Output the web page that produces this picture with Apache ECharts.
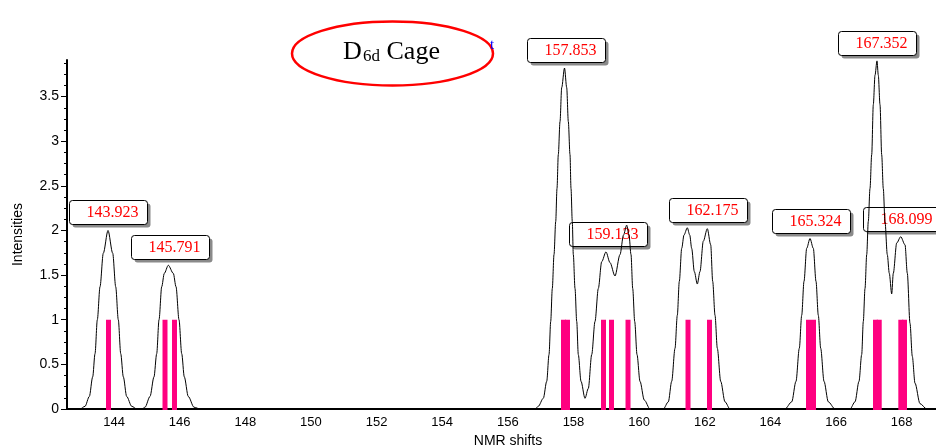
<!DOCTYPE html>
<html>
<head>
<meta charset="utf-8">
<script src="https://cdn.jsdelivr.net/npm/echarts@6/dist/echarts.min.js"></script>
<style>
html, body { margin: 0; padding: 0; background: #fff; }
#chart { width: 936px; height: 446px; }
</style>
</head>
<body>
<div id="chart"></div>
<script>
// Tick labels
const xTicks = [144, 146, 148, 150, 152, 154, 156, 158, 160, 162, 164, 166, 168];
const yTicks = [0, 0.5, 1, 1.5, 2, 2.5, 3, 3.5];
const yMinorTicks = [0.125, 0.25, 0.375, 0.625, 0.75, 0.875, 1.125, 1.25, 1.375, 1.625, 1.75, 1.875,
  2.125, 2.25, 2.375, 2.625, 2.75, 2.875, 3.125, 3.25, 3.375, 3.625, 3.75, 3.875];

// Calculated shielding sticks (ppm) and their relative intensities
const stickShifts = [143.923, 145.645, 145.935, 157.787, 157.909, 159.006, 159.250, 159.753,
  161.581, 162.236, 165.252, 165.405, 167.294, 167.407, 168.065, 168.177];
const stickIntensities = [1, 1, 1, 1, 1, 1, 1, 1, 1, 1, 1, 1, 1, 1, 1, 1];

// Broadened spectrum envelope
const curveShifts = [
  142.659, 143.055, 143.208, 143.339, 143.442, 143.513, 143.583, 143.665, 143.765, 143.909,
  144.052, 144.143, 144.222, 144.296, 144.375, 144.478, 144.631, 144.792,
  144.945, 145.036, 145.188, 145.310, 145.392, 145.463, 145.545, 145.624, 145.746, 145.898,
  145.981, 146.072, 146.154, 146.233, 146.355, 146.529, 146.712,
  156.919, 157.019, 157.172, 157.276, 157.346, 157.397, 157.446, 157.498, 157.550, 157.589,
  157.629, 157.681, 157.732, 157.818, 157.885, 157.934, 157.985, 158.016, 158.055, 158.086,
  158.138, 158.190, 158.238, 158.321, 158.442, 158.543, 158.647, 158.747, 158.848, 158.951,
  159.082, 159.204, 159.356, 159.509, 159.616, 159.713, 159.783, 159.844, 159.896, 159.957,
  160.027, 160.118, 160.249, 160.423,
  160.828, 160.981, 161.084, 161.185, 161.255, 161.316, 161.389, 161.459, 161.560, 161.633,
  161.693, 161.773, 161.864, 161.946, 162.047, 162.169, 162.272, 162.333, 162.404, 162.474,
  162.577, 162.708, 162.861,
  164.536, 164.741, 164.871, 164.972, 165.045, 165.115, 165.197, 165.298, 165.399, 165.481,
  165.551, 165.624, 165.725, 165.856, 166.060,
  166.517, 166.669, 166.791, 166.873, 166.922, 166.974, 167.026, 167.074, 167.126, 167.178,
  167.227, 167.279, 167.339, 167.379, 167.431, 167.482, 167.531, 167.583, 167.653, 167.714,
  167.787, 167.836, 167.940, 168.062, 168.193, 168.263, 168.345, 168.415, 168.497, 168.650,
  168.854, 169.137
];
const curveIntensities = [
  0, 0, 0.03, 0.14, 0.36, 0.62, 1.0, 1.37, 1.745, 2.0,
  1.745, 1.37, 1.0, 0.62, 0.36, 0.14, 0.03, 0,
  0, 0.02, 0.14, 0.36, 0.62, 1.0, 1.37, 1.52, 1.61, 1.52,
  1.37, 1.0, 0.62, 0.36, 0.14, 0.02, 0,
  0, 0.03, 0.12, 0.31, 0.61, 0.98, 1.35, 1.73, 2.10, 2.47,
  2.85, 3.22, 3.60, 3.82, 3.60, 3.22, 2.85, 2.47, 2.10, 1.73,
  1.35, 0.98, 0.61, 0.31, 0.12, 0.23, 0.61, 0.98, 1.35, 1.65,
  1.76, 1.64, 1.49, 1.73, 1.95, 2.06, 1.95, 1.73, 1.35, 0.98,
  0.61, 0.31, 0.10, 0,
  0, 0.08, 0.31, 0.68, 1.05, 1.43, 1.80, 1.95, 2.03, 1.95,
  1.80, 1.54, 1.40, 1.54, 1.88, 2.02, 1.84, 1.43, 1.05, 0.68,
  0.31, 0.08, 0,
  0, 0.08, 0.31, 0.68, 1.05, 1.43, 1.80, 1.91, 1.80, 1.43,
  1.05, 0.68, 0.31, 0.08, 0,
  0, 0.08, 0.31, 0.61, 0.98, 1.35, 1.73, 2.10, 2.47, 2.85,
  3.41, 3.74, 3.90, 3.74, 3.41, 2.85, 2.47, 2.10, 1.73, 1.52,
  1.29, 1.52, 1.86, 1.93, 1.84, 1.52, 0.96, 0.59, 0.29, 0.06,
  0, 0
];

// Peak annotations: shift value and envelope height under each tag
const peakLabels = [143.923, 145.791, 157.853, 159.133, 162.175, 165.324, 167.352, 168.099];
const peakHeights = [2.0, 1.61, 3.82, 1.76, 2.03, 1.91, 3.90, 1.93];

const chart = echarts.init(document.getElementById('chart'), null, { renderer: 'canvas' });

const axisFont = 'Liberation Sans, Arial, sans-serif';
const serifFont = 'Liberation Serif, Times New Roman, serif';

// Boxed tag with a drop shadow, sitting just above its peak
function renderTag(params, api) {
  const pt = api.coord([api.value(0), api.value(1)]);
  const w = 78, h = 24;
  const left = Math.round(pt[0] - w / 2) + 0.5;
  const top = Math.round(pt[1] - 6 - h) + 0.5;
  return {
    type: 'group',
    children: [
      { type: 'rect', shape: { x: left + 3, y: top + 3, width: w, height: h, r: 3 },
        style: { fill: '#8a8a8a' } },
      { type: 'rect', shape: { x: left, y: top, width: w, height: h, r: 3 },
        style: { fill: '#fff', stroke: '#000', lineWidth: 1 } },
      { type: 'text',
        style: { text: api.value(0).toFixed(3), x: left + 17, y: top + h / 2 + 0.5,
          fill: '#ff0000', font: '16px ' + serifFont, textAlign: 'left', textVerticalAlign: 'middle' } }
    ]
  };
}

chart.setOption({
  animation: false,
  backgroundColor: '#fff',
  grid: { left: 67, right: 0, top: 60, bottom: 37, containLabel: false, outerBoundsMode: 'none' },
  xAxis: {
    type: 'value',
    min: 142.659,
    max: 169.137,
    name: 'NMR shifts',
    nameLocation: 'middle',
    nameGap: 22,
    nameTextStyle: { fontFamily: axisFont, fontSize: 14, color: '#000', padding: [0, 0, 0, 13] },
    axisLine: { show: true, onZero: false, lineStyle: { color: '#000', width: 2 } },
    axisTick: { show: false },
    splitLine: { show: false },
    axisLabel: {
      customValues: xTicks,
      fontFamily: axisFont, fontSize: 13, color: '#000', margin: 7,
      padding: [0, 0, 0, 6]
    }
  },
  yAxis: [
    {
      type: 'value',
      min: 0,
      max: 3.91,
      name: 'Intensities',
      nameLocation: 'middle',
      nameGap: 42,
      nameRotate: 90,
      nameTextStyle: { fontFamily: axisFont, fontSize: 14, color: '#000' },
      axisLine: { show: true, lineStyle: { color: '#000', width: 2 } },
      axisTick: { show: true, customValues: yTicks, length: 6, lineStyle: { color: '#000', width: 1 } },
      splitLine: { show: false },
      axisLabel: {
        customValues: yTicks,
        fontFamily: axisFont, fontSize: 14, color: '#000', margin: 8,
        formatter: v => String(v)
      }
    },
    {
      type: 'value',
      min: 0,
      max: 3.91,
      position: 'left',
      axisLine: { show: false },
      axisTick: { show: true, customValues: yMinorTicks, length: 3, lineStyle: { color: '#000', width: 1 } },
      axisLabel: { show: false },
      splitLine: { show: false }
    }
  ],
  graphic: [
    {
      type: 'ellipse',
      shape: { cx: 392.5, cy: 53.5, rx: 100.5, ry: 32 },
      style: { fill: 'none', stroke: '#ff0000', lineWidth: 2.5 },
      z: 10
    },
    {
      type: 'text', z: 10,
      style: { text: 'D', x: 343, y: 52, fill: '#000', font: '26px ' + serifFont, textVerticalAlign: 'middle' }
    },
    {
      type: 'text', z: 10,
      style: { text: '6d', x: 363, y: 57, fill: '#000', font: '17px ' + serifFont, textVerticalAlign: 'middle' }
    },
    {
      type: 'text', z: 10,
      style: { text: 'Cage', x: 386.5, y: 52, fill: '#000', font: '26px ' + serifFont, textVerticalAlign: 'middle' }
    },
    {
      type: 'text', z: 10,
      style: { text: 't', x: 490, y: 45, fill: '#0000ff', font: '15px ' + serifFont, textVerticalAlign: 'middle' }
    }
  ],
  series: [
    {
      type: 'custom',
      z: 1,
      clip: false,
      data: peakLabels.map((s, i) => [s, peakHeights[i]]),
      encode: { x: 0, y: 1 },
      renderItem: renderTag
    },
    {
      type: 'custom',
      z: 2,
      data: stickShifts.map((s, i) => [s, stickIntensities[i]]),
      encode: { x: 0, y: 1 },
      renderItem: (params, api) => {
        const base = api.coord([api.value(0), 0]);
        const top = api.coord([api.value(0), api.value(1)]);
        return {
          type: 'rect',
          shape: { x: base[0] - 2.5, y: top[1], width: 5, height: base[1] - top[1] + 1 },
          style: { fill: '#ff0080' }
        };
      }
    },
    {
      type: 'line',
      z: 3,
      symbol: 'none',
      smooth: 0.3,
      smoothMonotone: 'x',
      lineStyle: { color: '#000', width: 1 },
      data: curveShifts.map((s, i) => [s, curveIntensities[i]])
    }
  ]
});
</script>
</body>
</html>
